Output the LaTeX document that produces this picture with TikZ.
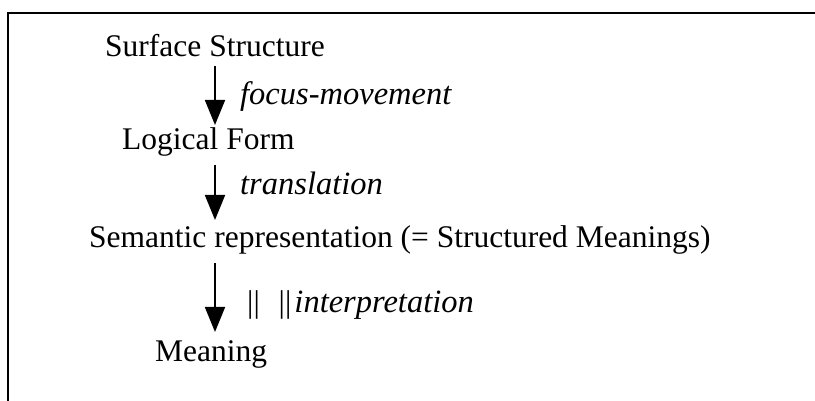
\documentclass[tikz,border=0pt]{standalone}
\usepackage{fontspec}
\setmainfont{Liberation Serif}
\usetikzlibrary{arrows.meta}
\begin{document}
\begin{tikzpicture}[x=1pt,y=1pt,
  lbl/.style={anchor=base west,inner sep=0pt,font=\fontsize{31.5}{34}\selectfont},
  ilbl/.style={lbl,font=\fontsize{32.5}{35}\selectfont\itshape},
  flow/.style={line width=1.8pt,-{Triangle[length=25pt,width=20pt]}}]
\useasboundingbox (0,0) rectangle (815,401);
\draw[line width=2.6pt] (8,0) -- (8,388) -- (815,388);
\node[lbl] (ss) at (105,344) {Surface Structure};
\node[lbl] (lf) at (122,251) {Logical Form};
\node[lbl] (sr) at (89,153) {Semantic representation (= Structured Meanings)};
\node[lbl] (mn) at (155,39) {Meaning};
\node[ilbl] (fm) at (240,296) {focus-movement};
\node[ilbl] (tr) at (240,206) {translation};
\node[lbl] (ip) at (247,88) {||\hspace{0.6em}||\hspace{0.1em}{\fontsize{32.5}{35}\selectfont\itshape interpretation}};
\coordinate (a1s) at (215,335);
\coordinate (a1e) at (215,276);
\coordinate (a2s) at (215,236);
\coordinate (a2e) at (215,181);
\coordinate (a3s) at (215,138);
\coordinate (a3e) at (215,69);
\draw[flow] (a1s) -- (a1e);
\draw[flow] (a2s) -- (a2e);
\draw[flow] (a3s) -- (a3e);
\end{tikzpicture}
\end{document}
